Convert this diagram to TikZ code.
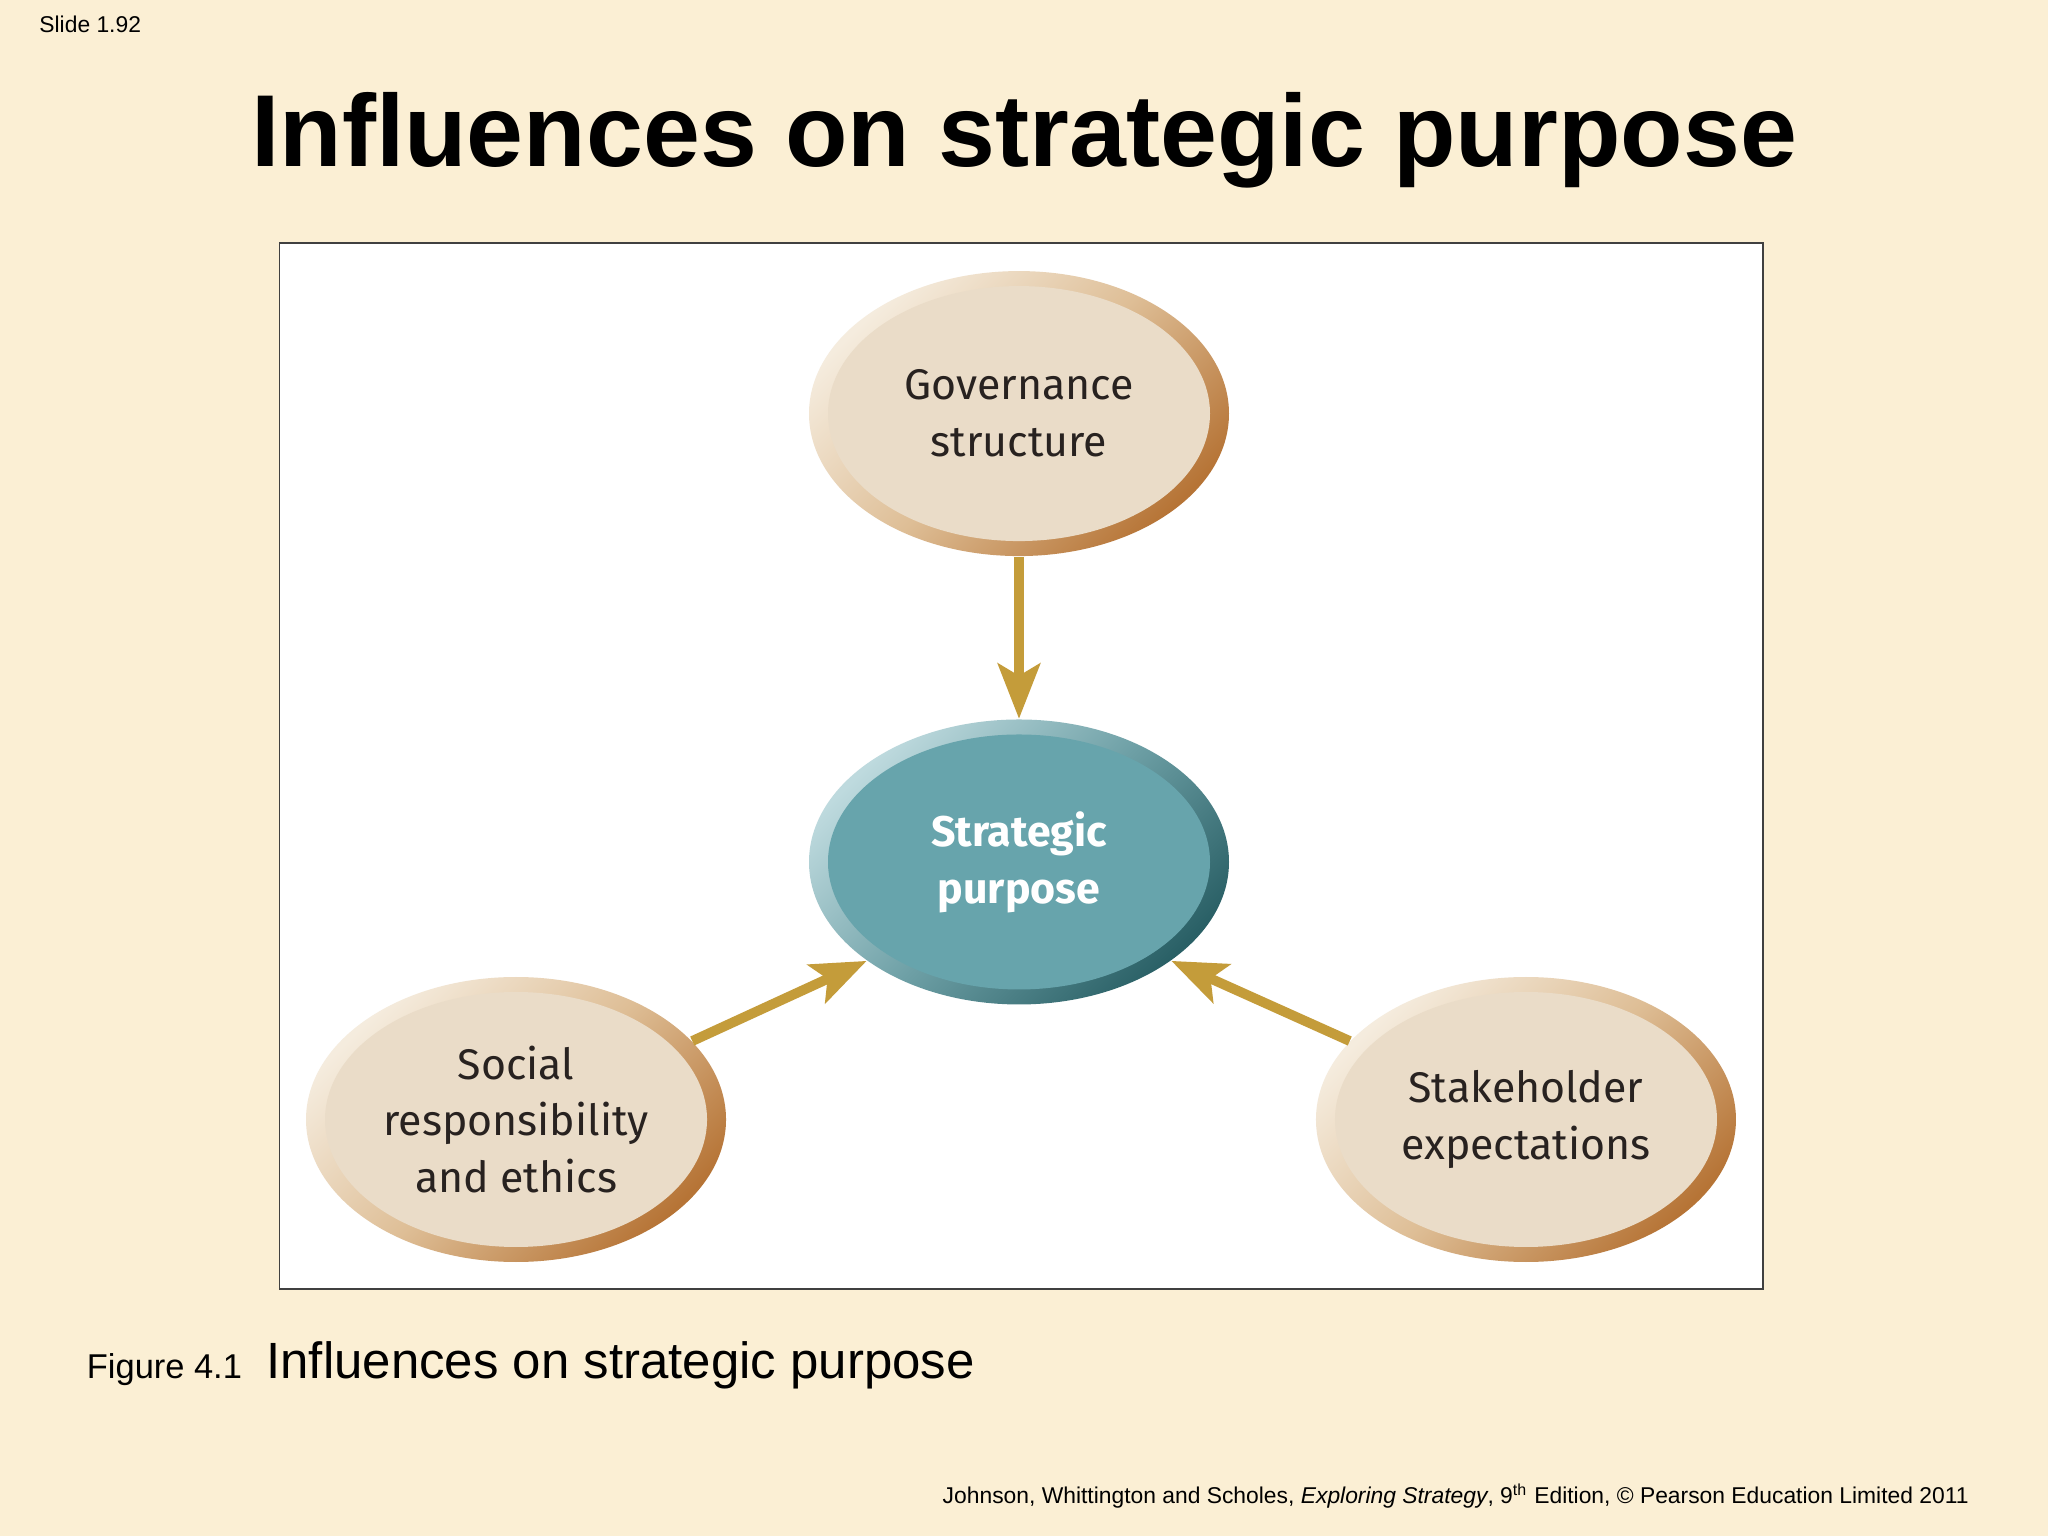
\documentclass[tikz,border=0pt]{standalone}
\usepackage{fontspec}
\setmainfont{Liberation Sans}
\newfontfamily\dinfont{Fira Sans}
\usetikzlibrary{positioning}
\usetikzlibrary{arrows.meta}
\usetikzlibrary{shapes.geometric}

\definecolor{slidebg}{RGB}{251,239,212}
\definecolor{arrowgold}{RGB}{196,156,58}
\definecolor{beigelight}{RGB}{245,236,222}
\definecolor{beigemid}{RGB}{222,190,150}
\definecolor{beigedark}{RGB}{182,116,54}
\definecolor{beigeinner}{RGB}{234,220,200}
\definecolor{teallight}{RGB}{190,218,222}
\definecolor{tealmid}{RGB}{110,160,166}
\definecolor{tealdark}{RGB}{42,96,102}
\definecolor{tealinner}{RGB}{103,164,172}
\definecolor{txtdark}{RGB}{40,34,32}

\begin{document}
\begin{tikzpicture}[
    influence/.style={ellipse, minimum width=4.2cm, minimum height=2.85cm, inner sep=0pt,
        align=center, font=\dinfont\fontsize{12.2}{16.2}\selectfont, text=txtdark,
        top color=beigelight, bottom color=beigedark, middle color=beigemid, shading angle=45,
        path picture={\fill[beigeinner] (path picture bounding box.center)
            ellipse [x radius=1.91cm, y radius=1.275cm];}},
    purpose/.style={influence, text=white, font=\dinfont\bfseries\fontsize{12.2}{16.2}\selectfont,
        top color=teallight, bottom color=tealdark, middle color=tealmid, shading angle=45,
        path picture={\fill[tealinner] (path picture bounding box.center)
            ellipse [x radius=1.91cm, y radius=1.275cm];}},
    feed/.style={-{Stealth[length=5.5mm, width=4.2mm, inset=1.2mm]}, arrowgold, line width=2.8pt}]

    % slide
    \fill[slidebg] (0,0) rectangle (20.48,15.36);
    \useasboundingbox (0,0) rectangle (20.48,15.36);
    \node[anchor=base west, font=\fontsize{6.5}{8}\selectfont] (slideno) at (0.27,15.03) {Slide 1.92};
    \node[anchor=base, font=\bfseries\fontsize{29.1}{35}\selectfont] (title) at (10.24,13.69)
        {Influences on strategic purpose};

    % figure frame
    \draw[fill=white, draw=black!75, line width=0.5pt] (2.795,2.47) rectangle (17.63,12.93);

    \node[purpose] (strat) at (10.19,6.74) {Strategic\\purpose};
    \node[influence, above=1.62cm of strat] (gov) {Governance\\structure};
    \node[influence, below left=0.55cm and 2.05cm of strat] (social)
        {Social\\responsibility\\and ethics};
    \node[influence, below right=0.55cm and 2.09cm of strat] (stake)
        {Stakeholder\\expectations};

    \draw[feed] (gov.south) -- (strat.north);
    \draw[feed] (social.24) -- (strat.213);
    \draw[feed] (stake.156) -- (strat.327);

    % caption and source
    \node[anchor=base west, font=\fontsize{9.8}{12}\selectfont] (fig) at (0.745,1.57) {Figure 4.1};
    \node[anchor=base west, font=\fontsize{14.5}{17}\selectfont] (caption) at (2.54,1.57)
        {Influences on strategic purpose};
    \node[anchor=base east, font=\fontsize{6.5}{8}\selectfont] (source) at (19.81,0.32)
        {Johnson, Whittington and Scholes, \textit{Exploring Strategy}, 9\textsuperscript{th} Edition, \textcopyright{} Pearson Education Limited 2011};
\end{tikzpicture}
\end{document}
